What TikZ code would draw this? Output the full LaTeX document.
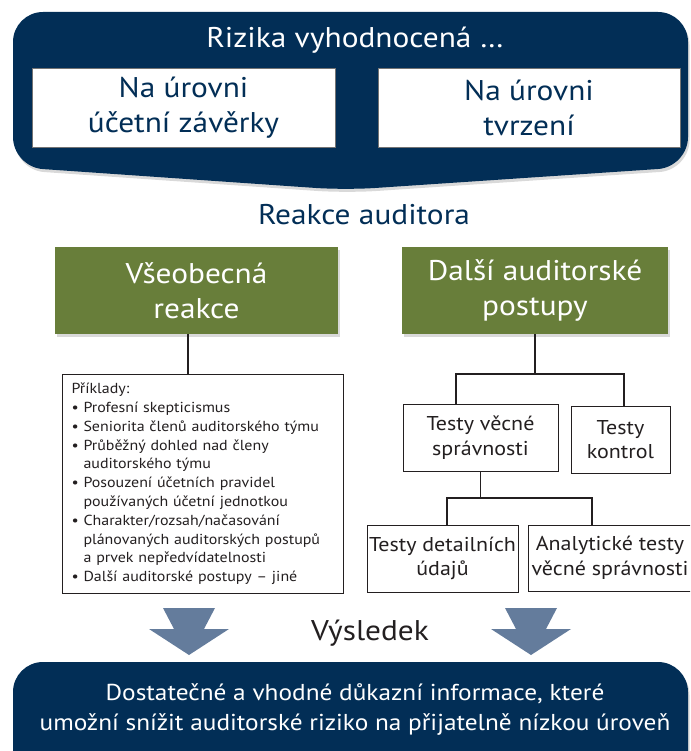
\documentclass[tikz,border=0pt]{standalone}
\usepackage{fontspec}
\setmainfont{PT Sans}[FakeStretch=1.1]
\usetikzlibrary{shadows}
\definecolor{navy}{RGB}{2,46,86}
\definecolor{leaf}{RGB}{104,126,58}
\definecolor{slate}{RGB}{100,124,156}
\definecolor{ink}{RGB}{35,31,32}
\tikzset{
  softshadow/.style={drop shadow={opacity=0.3, shadow xshift=1.5pt, shadow yshift=-3pt}},
  conn/.style={draw=ink, line width=1.6pt},
  headline/.style={font=\fontsize{28.5}{35}\selectfont},
  riskbox/.style={draw=black!55, line width=0.9pt, fill=white, text=navy, inner sep=0pt,
    align=center, headline},
  greenbox/.style={fill=leaf, text=white, inner sep=0pt, align=center, headline, softshadow},
  testbox/.style={draw=ink, line width=1pt, fill=white, text=ink, inner sep=0pt,
    align=center, font=\fontsize{20}{24.5}\selectfont},
  bigarrow/.style={fill=slate},
}
\begin{document}
\begin{tikzpicture}[x=1pt,y=-1pt]
\useasboundingbox (0,0) rectangle (690,751);
\clip (0,0) rectangle (690,751);

% banner with the assessed risks
\fill[navy, rounded corners=30pt, softshadow]
  (350,12) -- (688,12) -- (688,167) -- (345,190) -- (13,167) -- (13,12) -- cycle;
\node[headline, text=white, anchor=base] (title) at (355,48) {Rizika vyhodnocená …};
\node[riskbox, minimum width=303pt, minimum height=79pt] (fs) at (183.5,107.5) {Na úrovni\\účetní závěrky};
\node[riskbox, minimum width=302pt, minimum height=79pt] (asr) at (529,107.5) {Na úrovni\\tvrzení};

\node[headline, text=navy, anchor=base] (reakce) at (364,225) {Reakce auditora};

% responses
\node[greenbox, minimum width=283pt, minimum height=87pt] (general) at (196.5,290.5) {Všeobecná\\reakce};
\node[greenbox, minimum width=266pt, minimum height=87pt] (further) at (535,290.5) {Další auditorské\\postupy};

\node[draw=ink, line width=1pt, anchor=north west, minimum height=219pt, text width=263pt,
  inner xsep=9pt, inner ysep=0pt, align=left, text=ink, font=\fontsize{14.5}{18.8}\selectfont]
  (examples) at (62,374) {Příklady:\\
• Profesní skepticismus\\
• Seniorita členů auditorského týmu\\
• Průběžný dohled nad členy\\
\hphantom{• }auditorského týmu\\
• Posouzení účetních pravidel\\
\hphantom{• }používaných účetní jednotkou\\
• Charakter/rozsah/načasování\\
\hphantom{• }plánovaných auditorských postupů\\
\hphantom{• }a prvek nepředvídatelnosti\\
• Další auditorské postupy – jiné};

\node[testbox, minimum width=155pt, minimum height=67pt] (subst) at (480.5,437.5) {Testy věcné\\správnosti};
\node[testbox, minimum width=99pt, minimum height=67pt] (ctrl) at (620.5,439.5) {Testy\\kontrol};
\node[testbox, minimum width=151pt, minimum height=67pt] (detail) at (442.5,558.5) {Testy detailních\\údajů};
\node[testbox, minimum width=164pt, minimum height=66pt] (analytic) at (610,558) {Analytické testy\\věcné správnosti};

% connectors
\coordinate (gx) at (188,0);
\coordinate (busL) at (456,374);
\coordinate (busR) at (624,374);
\coordinate (busL2) at (447,498);
\coordinate (busR2) at (592,498);
\draw[conn] (general.south -| gx) -- (examples.north -| gx);
\draw[conn] (further.south) -- (further.south |- busL);
\draw[conn] (subst.north -| busL) -- (busL) -- (busR) -- (ctrl.north -| busR);
\draw[conn] (subst.south) -- (subst.south |- busL2);
\draw[conn] (detail.north -| busL2) -- (busL2) -- (busR2) -- (analytic.north -| busR2);

% downward arrows
\foreach \c in {189,531}
  \fill[bigarrow] (\c-26,608) -- (\c+26,608) -- (\c+15,629) -- (\c+40,629) -- (\c,655)
    -- (\c-40,629) -- (\c-15,629) -- cycle;

\node[headline, text=ink, anchor=base] (vysledek) at (370,640) {Výsledek};

% outcome
\fill[navy, rounded corners=30pt, softshadow] (13,662) rectangle (688,800);
\node[text=white, align=center, font=\fontsize{23}{30}\selectfont] (outcome) at (355,709)
  {Dostatečné a vhodné důkazní informace, které\\umožní snížit auditorské riziko na přijatelně nízkou úroveň};
\end{tikzpicture}
\end{document}
